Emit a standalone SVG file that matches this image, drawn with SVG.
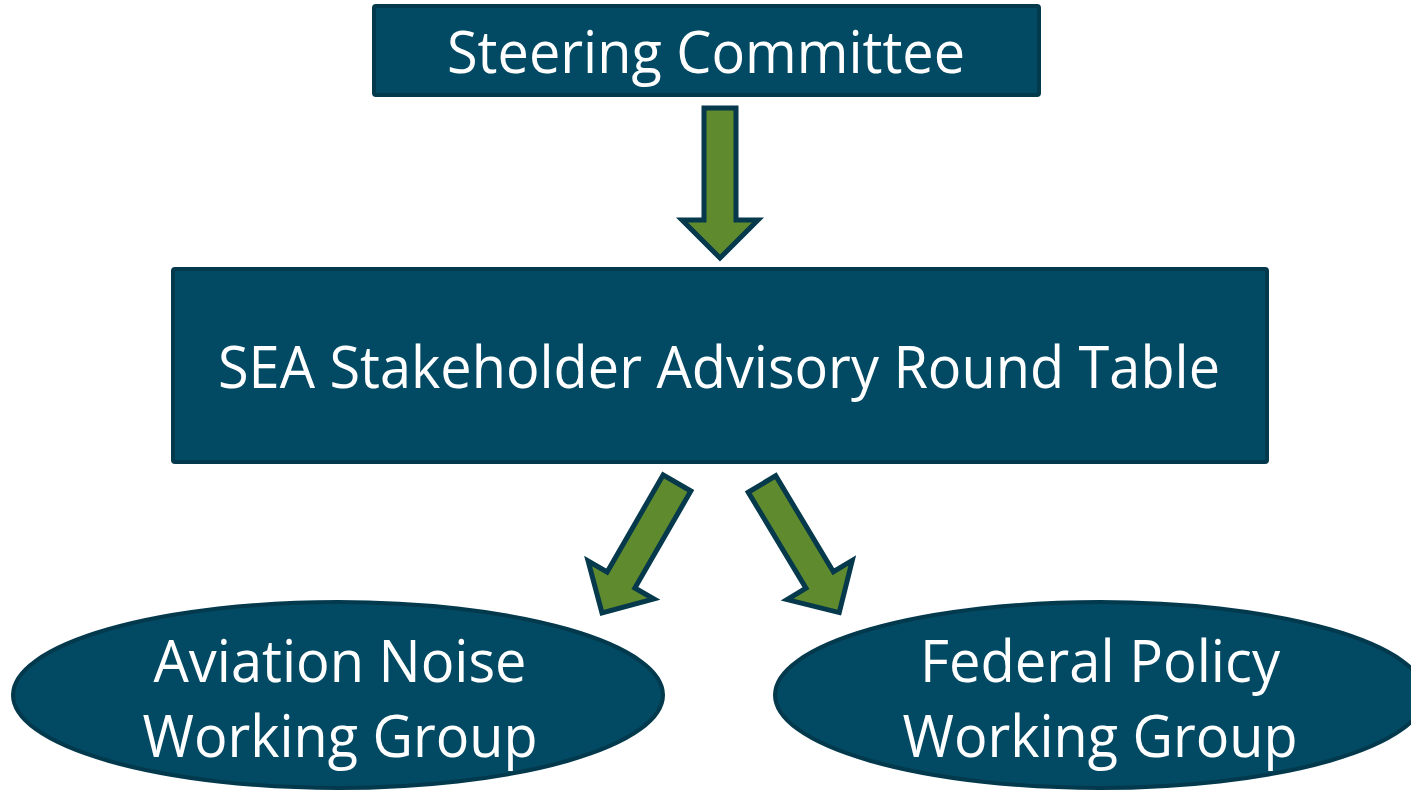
<svg xmlns="http://www.w3.org/2000/svg" xmlns:xlink="http://www.w3.org/1999/xlink" width="1411" height="794" viewBox="0 0 1411 794">
<style>
.box{fill:#024a63;stroke:#03394c;stroke-width:4}
.lbl{font-family:"Open Sans","Noto Sans","Liberation Sans",sans-serif;font-size:58px;fill:#ffffff;text-anchor:middle}
.arr{fill:#5f8a2e;stroke:#05394b;stroke-width:5;stroke-linejoin:miter}
</style>
<defs>
<path id="arrowShape" class="arr" d="M-16,0 H16 V112 H38 L0,150 L-38,112 H-16 Z"/>
</defs>
<rect width="1411" height="794" fill="#ffffff"/>
<g id="connectors">
<use xlink:href="#arrowShape" href="#arrowShape" transform="translate(720,108)"/>
<use xlink:href="#arrowShape" href="#arrowShape" transform="translate(677,483) rotate(30)"/>
<use xlink:href="#arrowShape" href="#arrowShape" transform="translate(762,484) rotate(-31)"/>
</g>
<g id="steering-committee">
<rect class="box" x="374" y="6" width="665" height="89" rx="2"/>
<text class="lbl" x="706" y="73" textLength="518" lengthAdjust="spacingAndGlyphs">Steering Committee</text>
</g>
<g id="round-table">
<rect class="box" x="173" y="269" width="1094" height="193" rx="2"/>
<text class="lbl" x="719" y="388" textLength="1002" lengthAdjust="spacingAndGlyphs">SEA Stakeholder Advisory Round Table</text>
</g>
<g id="aviation-noise">
<ellipse class="box" cx="338" cy="695" rx="325" ry="93"/>
<text class="lbl" x="340" y="682" textLength="373" lengthAdjust="spacingAndGlyphs">Aviation Noise</text>
<text class="lbl" x="340" y="757" textLength="395" lengthAdjust="spacingAndGlyphs">Working Group</text>
</g>
<g id="federal-policy">
<ellipse class="box" cx="1100" cy="695" rx="325" ry="93"/>
<text class="lbl" x="1100" y="682" textLength="360" lengthAdjust="spacingAndGlyphs">Federal Policy</text>
<text class="lbl" x="1100" y="757" textLength="395" lengthAdjust="spacingAndGlyphs">Working Group</text>
</g>
</svg>
